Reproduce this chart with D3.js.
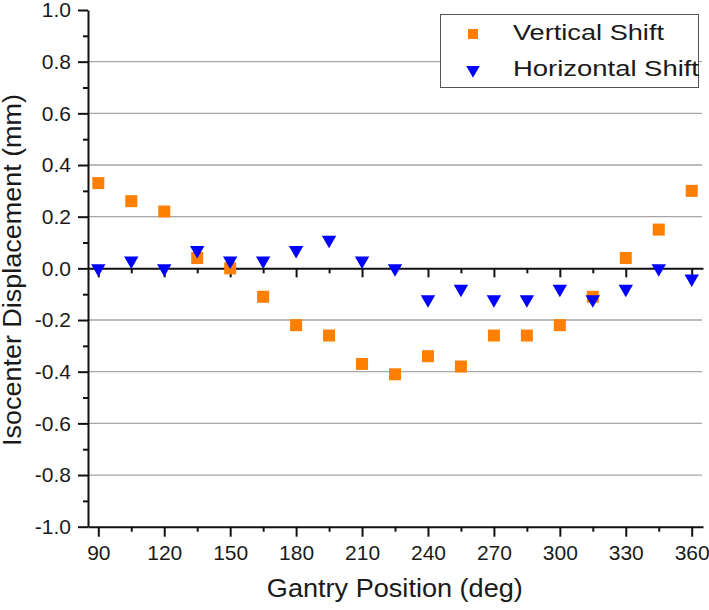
<!DOCTYPE html>
<head>
    <meta charset="UTF-8">
    <title>Isocenter Displacement</title>
</head>
<style>
    body { margin: 0; background: #fff; }
    text { font-family: "Liberation Sans", Arial, sans-serif; fill: #1a1a1a; }
    .axis path, .axis line { stroke: #111; stroke-width: 2px; }
    .grid line { stroke: #a6a6a6; stroke-width: 1.3px; }
</style>
<body>
<script src="https://d3js.org/d3.v7.min.js"></script>
<script>
    // gantry angle (deg)
    var gantry = [90, 105, 120, 135, 150, 165, 180, 195, 210, 225, 240, 255, 270, 285, 300, 315, 330, 345, 360];
    // displacement values (mm)
    var verticalShift = [0.33, 0.26, 0.22, 0.04, 0.00, -0.11, -0.22, -0.26, -0.37, -0.41, -0.34, -0.38, -0.26, -0.26, -0.22, -0.11, 0.04, 0.15, 0.30];
    var horizontalShift = [0.00, 0.03, 0.00, 0.07, 0.03, 0.03, 0.07, 0.11, 0.03, 0.00, -0.12, -0.08, -0.12, -0.12, -0.08, -0.12, -0.08, 0.00, -0.04];

    var xMajor = [90, 120, 150, 180, 210, 240, 270, 300, 330, 360],
        xMinor = [105, 135, 165, 195, 225, 255, 285, 315, 345];
    var yMajor = [-1.0, -0.8, -0.6, -0.4, -0.2, 0.0, 0.2, 0.4, 0.6, 0.8, 1.0],
        yMinor = [-0.9, -0.7, -0.5, -0.3, -0.1, 0.1, 0.3, 0.5, 0.7, 0.9];

    var seriesNames = ["Vertical Shift", "Horizontal Shift"];

    var W = 709, H = 610;
    var plotLeft = 88, plotRight = 703, plotTop = 10, plotBottom = 526.7;

    var x = d3.scaleLinear().domain([85.31, 365.14]).range([plotLeft, plotRight]);
    var y = d3.scaleLinear().domain([-1, 1]).range([plotBottom, plotTop]);

    var svg = d3.select("body").append("svg")
        .attr("width", W)
        .attr("height", H);

    // horizontal gridlines
    svg.append("g")
        .attr("class", "grid")
        .selectAll("line")
        .data(yMajor.filter(function(d) { return Math.abs(d) > 1e-9 && Math.abs(d) < 0.99; }))
        .enter().append("line")
        .attr("x1", plotLeft + 1)
        .attr("x2", plotRight - 1)
        .attr("y1", function(d) { return y(d); })
        .attr("y2", function(d) { return y(d); });

    // plain hyphen for negatives, like the original
    var fmt = function(d) { return d.toFixed(1).replace("−", "-"); };

    // left axis
    svg.append("g")
        .attr("class", "axis")
        .attr("transform", "translate(" + plotLeft + ",0)")
        .call(d3.axisLeft(y).tickValues(yMajor).tickSize(10).tickSizeOuter(0).tickPadding(7)
            .tickFormat(fmt))
        .selectAll("text")
        .style("font-size", "21px");
    svg.append("g")
        .attr("class", "axis")
        .attr("transform", "translate(" + plotLeft + ",0)")
        .call(d3.axisLeft(y).tickValues(yMinor).tickSize(5).tickFormat(""))
        .select(".domain").remove();

    // bottom axis
    svg.append("g")
        .attr("class", "axis")
        .attr("transform", "translate(0," + plotBottom + ")")
        .call(d3.axisBottom(x).tickValues(xMajor).tickSize(10).tickSizeOuter(0).tickPadding(8))
        .selectAll("text")
        .style("font-size", "21px");
    svg.append("g")
        .attr("class", "axis")
        .attr("transform", "translate(0," + plotBottom + ")")
        .call(d3.axisBottom(x).tickValues(xMinor).tickSize(5).tickFormat(""))
        .select(".domain").remove();

    // zero line with ticks
    svg.append("g")
        .attr("class", "axis")
        .attr("transform", "translate(0," + y(0) + ")")
        .call(d3.axisBottom(x).tickValues(xMajor).tickSize(9).tickSizeOuter(0).tickFormat(""));
    svg.append("g")
        .attr("class", "axis")
        .attr("transform", "translate(0," + y(0) + ")")
        .call(d3.axisBottom(x).tickValues(xMinor).tickSize(5).tickFormat(""))
        .select(".domain").remove();

    // axis titles
    svg.append("text")
        .attr("x", (266.7 + 523) / 2)
        .attr("y", 597)
        .attr("text-anchor", "middle")
        .attr("textLength", 256)
        .attr("lengthAdjust", "spacingAndGlyphs")
        .style("font-size", "25px")
        .text("Gantry Position (deg)");

    svg.append("text")
        .attr("transform", "translate(21," + 270 + ") rotate(-90)")
        .attr("text-anchor", "middle")
        .attr("textLength", 352)
        .attr("lengthAdjust", "spacingAndGlyphs")
        .style("font-size", "25px")
        .text("Isocenter Displacement (mm)");

    var square = d3.symbol().type(d3.symbolSquare).size(144),
        triangle = d3.symbol().type(d3.symbolTriangle).size(90);

    // vertical shift (squares)
    svg.append("g")
        .selectAll("path")
        .data(gantry.map(function(g, i) { return [g, verticalShift[i]]; }))
        .enter().append("path")
        .attr("d", square)
        .attr("fill", "#ff7f00")
        .attr("transform", function(d) { return "translate(" + x(d[0]) + "," + y(d[1]) + ")"; });

    // horizontal shift (down triangles)
    svg.append("g")
        .selectAll("path")
        .data(gantry.map(function(g, i) { return [g, horizontalShift[i]]; }))
        .enter().append("path")
        .attr("d", triangle)
        .attr("fill", "#0000ff")
        .attr("transform", function(d) { return "translate(" + x(d[0]) + "," + y(d[1]) + ") rotate(180)"; });

    // legend
    var legend = svg.append("g");
    legend.append("rect")
        .attr("x", 440.5).attr("y", 14.5)
        .attr("width", 258).attr("height", 73)
        .attr("fill", "#fff")
        .attr("stroke", "#555")
        .attr("stroke-width", 1);
    legend.append("path")
        .attr("d", d3.symbol().type(d3.symbolSquare).size(100))
        .attr("fill", "#ff7f00")
        .attr("transform", "translate(473,34)");
    legend.append("path")
        .attr("d", d3.symbol().type(d3.symbolTriangle).size(80))
        .attr("fill", "#0000ff")
        .attr("transform", "translate(473,70) rotate(180)");
    legend.append("text")
        .attr("x", 513).attr("y", 40)
        .attr("textLength", 151)
        .attr("lengthAdjust", "spacingAndGlyphs")
        .style("font-size", "22px")
        .text(seriesNames[0]);
    legend.append("text")
        .attr("x", 513).attr("y", 76)
        .attr("textLength", 186)
        .attr("lengthAdjust", "spacingAndGlyphs")
        .style("font-size", "22px")
        .text(seriesNames[1]);
</script>
